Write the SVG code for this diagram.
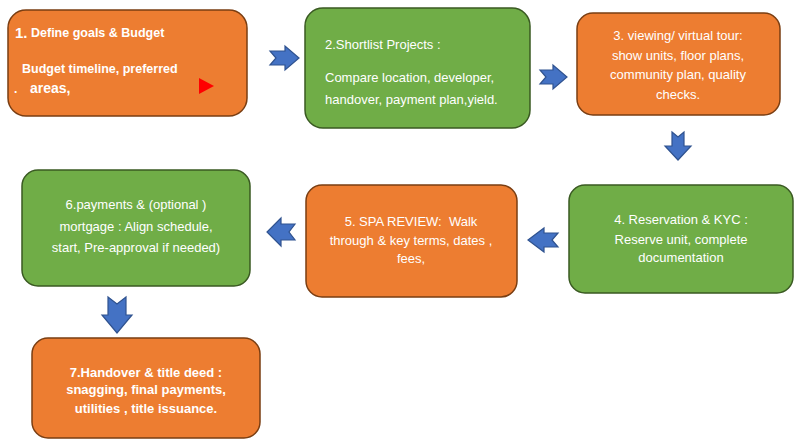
<svg xmlns="http://www.w3.org/2000/svg" width="800" height="447" viewBox="0 0 800 447">
<style>
.or{fill:#ED7D31;stroke:#7A3E12;stroke-width:1.5}
.gr{fill:#70AD47;stroke:#3A5A22;stroke-width:1.5}
.t{font-family:"Liberation Sans",Arial,sans-serif;font-size:13px;fill:#FFFFFF}
.c{text-anchor:middle}
.b{font-weight:bold}
.ar{fill:#4472C4;stroke:#2F528F;stroke-width:1.2;stroke-linejoin:miter}
</style>
<rect width="800" height="447" fill="#FFFFFF"/>
<g id="node1">
<rect class="or" x="8" y="10" width="239" height="106" rx="18"/>
<text class="t b" x="15" y="38" style="font-size:15px">1.</text>
<text class="t b" x="31" y="37" style="font-size:12.5px">Define goals &amp; Budget</text>
<text class="t b" x="22" y="73" style="font-size:12.5px">Budget timeline, preferred</text>
<text class="t b" x="14" y="93" style="font-size:12px">.</text>
<text class="t b" x="30" y="93" style="font-size:14px">areas,</text>
<polygon points="199,78 214,86 199,94" fill="#FF0000"/>
</g>
<g id="node2">
<rect class="gr" x="305" y="8" width="225" height="120" rx="18"/>
<text class="t" x="325" y="49">2.Shortlist Projects :</text>
<text class="t" x="325" y="82">Compare location, developer,</text>
<text class="t" x="325" y="104">handover, payment plan,yield.</text>
</g>
<g id="node3">
<rect class="or" x="577" y="13" width="203" height="102" rx="16"/>
<text class="t c" x="678" y="40">3. viewing/ virtual tour:</text>
<text class="t c" x="678" y="60">show units, floor plans,</text>
<text class="t c" x="678" y="79">community plan, quality</text>
<text class="t c" x="678" y="99">checks.</text>
</g>
<g id="node4">
<rect class="gr" x="569" y="185" width="224" height="108" rx="16"/>
<text class="t c" x="681" y="224">4. Reservation &amp; KYC :</text>
<text class="t c" x="681" y="244">Reserve unit, complete</text>
<text class="t c" x="681" y="262">documentation</text>
</g>
<g id="node5">
<rect class="or" x="306" y="185" width="211" height="112" rx="16"/>
<text class="t c" x="411" y="226">5. SPA REVIEW: &#160;Walk</text>
<text class="t c" x="411" y="245">through &amp; key terms, dates ,</text>
<text class="t c" x="411" y="263">fees,</text>
</g>
<g id="node6">
<rect class="gr" x="22" y="170" width="228" height="116" rx="16"/>
<text class="t c" x="136" y="209">6.payments &amp; (optional )</text>
<text class="t c" x="136" y="231">mortgage : Align schedule,</text>
<text class="t c" x="136" y="252">start, Pre-approval if needed)</text>
</g>
<g id="node7">
<rect class="or" x="32" y="338" width="228" height="100" rx="16"/>
<text class="t c b" x="146" y="377">7.Handover &amp; title deed :</text>
<text class="t c b" x="146" y="394">snagging, final payments,</text>
<text class="t c b" x="146" y="413">utilities , title issuance.</text>
</g>
<g id="connectors">
<path class="ar" d="M270,51 L285,51 L285,46 L299,58 L285,70 L285,65 L270,65 L276,58 Z"/>
<path class="ar" d="M540,70 L553,70 L553,65 L567,77 L553,89 L553,84 L540,84 L546,77 Z"/>
<path class="ar" d="M672,132 L678,137 L684,132 L684,146 L691,146 L678,160 L665,146 L672,146 Z"/>
<path class="ar" d="M558,233 L544,233 L544,228 L528,240 L544,252 L544,247 L558,247 L552,240 Z"/>
<path class="ar" d="M295,224 L281,224 L281,218 L267,232 L281,246 L281,240 L295,240 L289,232 Z"/>
<path class="ar" d="M108,297 L117,304 L126,297 L126,315 L132,315 L117,333 L102,315 L108,315 Z"/>
</g>
</svg>
